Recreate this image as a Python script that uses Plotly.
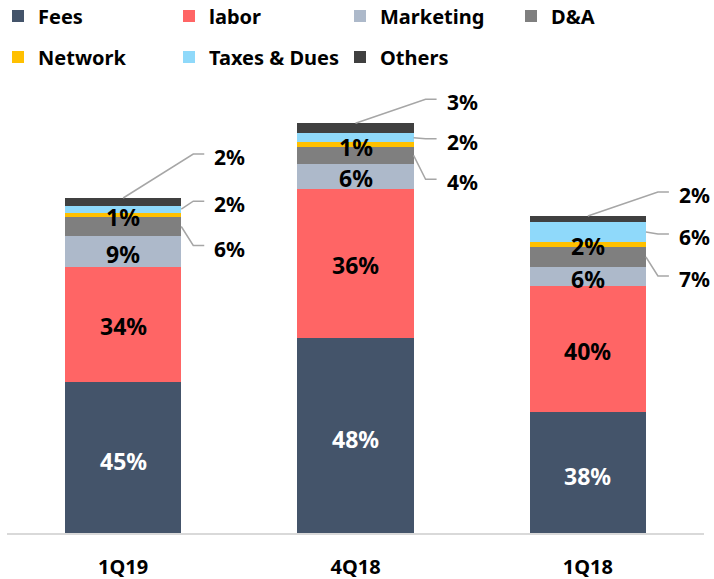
import plotly.graph_objects as go

# ---------------- data ----------------
categories = ["1Q19", "4Q18", "1Q18"]
series_names = ["Fees", "labor", "Marketing", "D&A", "Network", "Taxes & Dues", "Others"]

fees = [151.0, 195.0, 120.7]
labor = [115.3, 149.3, 126.3]
marketing = [30.4, 25.0, 18.7]
da = [19.6, 16.7, 20.6]
network = [4.0, 5.0, 4.7]
taxes = [7.0, 8.7, 20.0]
others = [7.7, 10.0, 6.0]

fees_pct = ["45%", "48%", "38%"]
labor_pct = ["34%", "36%", "40%"]
marketing_pct = ["9%", "6%", "6%"]
da_pct = ["6%", "4%", "7%"]
network_pct = ["1%", "1%", "2%"]
taxes_pct = ["2%", "2%", "6%"]
others_pct = ["2%", "3%", "2%"]

colors = ["#44546A", "#FF6565", "#ADB9CA", "#7F7F7F", "#FFC000", "#8FD9FA", "#404040"]

# ---------------- layout constants ----------------
W, H = 714, 579
M_L, M_R, M_T, M_B = 7, 10, 83, 46
PLOT_W = W - M_L - M_R
PLOT_H = H - M_T - M_B
Y_MAX = 450.0
X_RANGE = [-0.5, 2.5]
BAR_W = 0.5
PX_X = (X_RANGE[1] - X_RANGE[0]) / PLOT_W   # data units per pixel (x)
PX_Y = Y_MAX / PLOT_H                       # data units per pixel (y)

FONT = "Noto Sans"
LINE_COLOR = "#A6A6A6"

# label offsets (pixels) for the call-out labels, per bar
others_dy = [-44, -24, -24]
taxes_dy = [-8, 1, 2]
da_dy = [19, 24, 19]

series = [fees, labor, marketing, da, network, taxes, others]
legend_ids = ["legend", "legend", "legend", "legend", "legend2", "legend2", "legend2"]
xs = list(range(len(categories)))

fig = go.Figure()
for name, vals, col, lg in zip(series_names, series, colors, legend_ids):
    fig.add_trace(go.Bar(
        x=xs, y=vals, name=name, width=BAR_W,
        marker=dict(color=col, line=dict(width=0)),
        legend=lg, hoverinfo="skip",
    ))

annotations = []
shapes = []


def add_label(x, y, text, color="black", size=23, xanchor="center", yshift=0):
    annotations.append(dict(
        x=x, y=y, xref="x", yref="y", text="<b>%s</b>" % text, showarrow=False,
        xanchor=xanchor, yanchor="middle", yshift=yshift,
        font=dict(family=FONT, size=size, color=color),
    ))


for i in xs:
    bases = []
    acc = 0.0
    for s in series:
        bases.append(acc)
        acc += s[i]
    total = acc
    mid = [bases[k] + series[k][i] / 2 for k in range(len(series))]

    add_label(i, mid[0], fees_pct[i], color="white", yshift=-3)
    add_label(i, mid[1], labor_pct[i], yshift=-2)
    add_label(i, mid[2], marketing_pct[i], yshift=-2)
    add_label(i, mid[4], network_pct[i], yshift=-2)

    right = i + BAR_W / 2
    elbow_x = right + 12 * PX_X
    end_x = right + 23 * PX_X
    text_x = right + 31 * PX_X

    # Others: from top centre of the bar
    y_o = total - others_dy[i] * PX_Y
    shapes.append(dict(type="path", xref="x", yref="y",
                       path="M %f,%f L %f,%f L %f,%f" % (i, total, elbow_x, y_o, end_x, y_o),
                       line=dict(color=LINE_COLOR, width=1.5)))
    add_label(text_x, y_o, others_pct[i], size=21, xanchor="left", yshift=-3)

    # Taxes & Dues: from right edge
    y_t = mid[5] - taxes_dy[i] * PX_Y
    shapes.append(dict(type="path", xref="x", yref="y",
                       path="M %f,%f L %f,%f L %f,%f" % (right, mid[5], elbow_x, y_t, end_x, y_t),
                       line=dict(color=LINE_COLOR, width=1.5)))
    add_label(text_x, y_t, taxes_pct[i], size=21, xanchor="left", yshift=-3)

    # D&A: from right edge
    y_d = mid[3] - da_dy[i] * PX_Y
    shapes.append(dict(type="path", xref="x", yref="y",
                       path="M %f,%f L %f,%f L %f,%f" % (right, mid[3], elbow_x, y_d, end_x, y_d),
                       line=dict(color=LINE_COLOR, width=1.5)))
    add_label(text_x, y_d, da_pct[i], size=21, xanchor="left", yshift=-3)


def paper_y(px):
    return (H - M_B - px) / PLOT_H


legend_common = dict(
    orientation="h", xanchor="left", yanchor="middle",
    x=(-2 - M_L) / PLOT_W,
    font=dict(family=FONT, size=20, color="black", weight="bold"),
    entrywidth=126, entrywidthmode="pixels", itemwidth=30,
    bgcolor="rgba(0,0,0,0)", traceorder="normal",
)

fig.update_layout(
    width=W, height=H,
    margin=dict(l=M_L, r=M_R, t=M_T, b=M_B, autoexpand=False),
    paper_bgcolor="white", plot_bgcolor="white",
    barmode="stack", bargap=0.5,
    font=dict(family=FONT),
    showlegend=True,
    legend=dict(legend_common, y=paper_y(16)),
    legend2=dict(legend_common, y=paper_y(57)),
    xaxis=dict(
        range=X_RANGE, tickmode="array", tickvals=xs, ticktext=categories,
        showline=True, linecolor="#D9D9D9", linewidth=2, showgrid=False, zeroline=False,
        ticks="", ticklabelstandoff=15,
        tickfont=dict(family=FONT, size=20, color="black", weight="bold"),
        fixedrange=True,
    ),
    yaxis=dict(range=[0, Y_MAX], visible=False, showgrid=False, zeroline=False, fixedrange=True),
    annotations=annotations,
    shapes=shapes,
)

fig.write_html("out.html", config={"displayModeBar": False},
               post_script="document.body.style.margin='0';")
